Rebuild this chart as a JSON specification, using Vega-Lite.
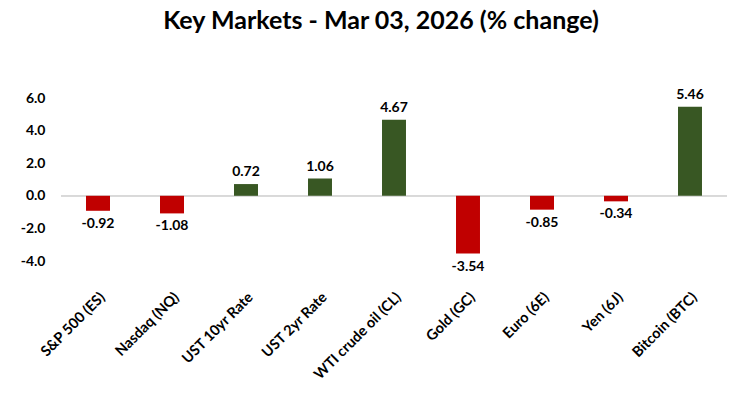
{
  "$schema": "https://vega.github.io/schema/vega-lite/v6.json",
  "autosize": {"type": "none"},
  "padding": {"left": 61, "top": 98, "right": 28, "bottom": 136},
  "width": 666,
  "height": 163,
  "background": "white",
  "title": {"text": "Key Markets - Mar 03, 2026 (% change)", "font": "Lato", "fontSize": 25, "fontWeight": "bold", "color": "#000000", "anchor": "middle", "dx": -13, "offset": 54},
  "data": {"values": [
    {"market": "S&P 500 (ES)", "change": -0.92},
    {"market": "Nasdaq (NQ)", "change": -1.08},
    {"market": "UST 10yr Rate", "change": 0.72},
    {"market": "UST 2yr Rate", "change": 1.06},
    {"market": "WTI crude oil (CL)", "change": 4.67},
    {"market": "Gold (GC)", "change": -3.54},
    {"market": "Euro (6E)", "change": -0.85},
    {"market": "Yen (6J)", "change": -0.34},
    {"market": "Bitcoin (BTC)", "change": 5.46}
  ]},
  "encoding": {
    "x": {"field": "market", "type": "nominal", "sort": null,
      "scale": {"paddingInner": 0.676, "paddingOuter": 0.338},
      "axis": {"title": null, "labelAngle": -45, "labelFont": "Lato", "labelFontSize": 14.5, "labelFontWeight": "bold", "labelColor": "#000000", "domain": false, "ticks": false, "labelPadding": 29}},
    "y": {"field": "change", "type": "quantitative",
      "scale": {"domain": [-4, 6], "nice": false, "zero": true},
      "axis": {"title": null, "values": [-4, -2, 0, 2, 4, 6], "labelExpr": "replace(format(datum.value, '.1f'), '\u2212', '-')", "grid": false, "domain": false, "ticks": false, "labelOverlap": false, "labelFont": "Lato", "labelFontSize": 14, "labelFontWeight": "bold", "labelColor": "#000000", "labelPadding": 16}}
  },
  "layer": [
    {
      "mark": {"type": "rule", "color": "#d9d9d9", "strokeWidth": 1},
      "encoding": {"x": null, "y": {"datum": 0}}
    },
    {
      "mark": {"type": "bar"},
      "encoding": {
        "color": {"condition": {"test": "datum.change < 0", "value": "#C00000"}, "value": "#385723"}
      }
    },
    {
      "transform": [{"filter": "datum.change >= 0"}],
      "mark": {"type": "text", "font": "Lato", "fontSize": 14, "fontWeight": "bold", "color": "#000000", "baseline": "bottom", "dy": -5},
      "encoding": {
        "text": {"field": "change", "type": "nominal"}
      }
    },
    {
      "transform": [{"filter": "datum.change < 0"}],
      "mark": {"type": "text", "font": "Lato", "fontSize": 14, "fontWeight": "bold", "color": "#000000", "baseline": "top", "dy": 6},
      "encoding": {
        "text": {"field": "change", "type": "nominal"}
      }
    }
  ],
  "config": {"view": {"stroke": null}, "axisY": {"labelOverlap": false}}
}
